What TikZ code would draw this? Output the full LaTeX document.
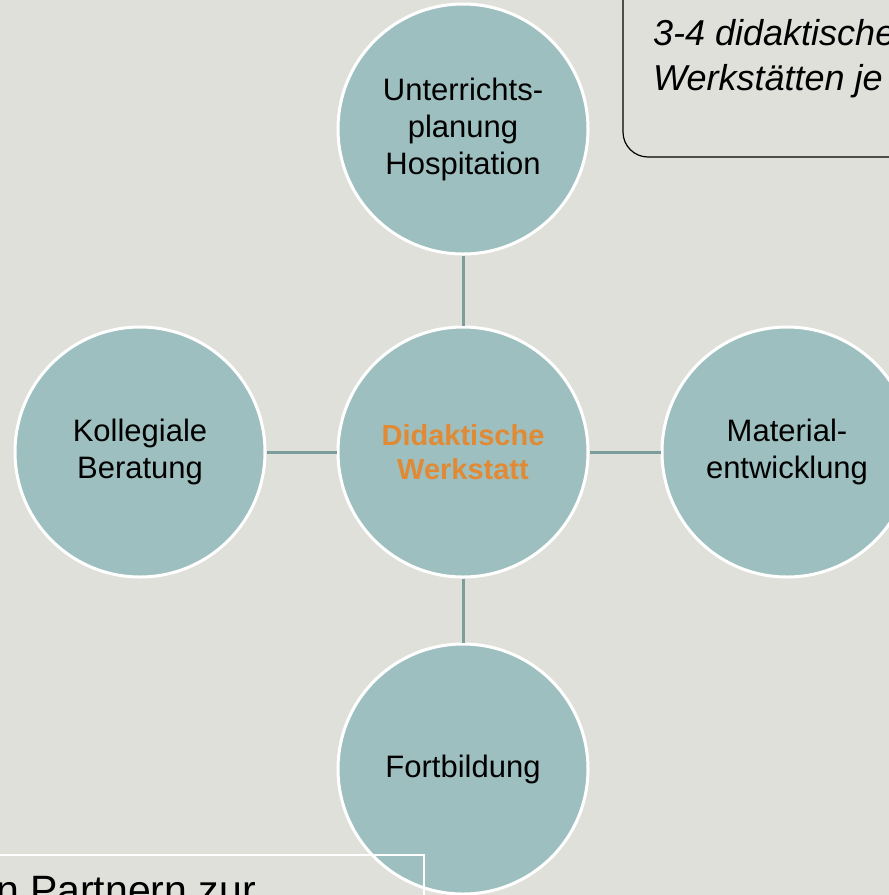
\documentclass[tikz,border=0pt]{standalone}
\usepackage{fontspec}
\setmainfont{Liberation Sans}
\usepackage{xcolor}
\definecolor{hintergrund}{HTML}{E0E0DB}
\definecolor{kreisfarbe}{HTML}{9EBFBF}
\definecolor{linienfarbe}{HTML}{7D9C9C}
\definecolor{orangetext}{HTML}{E08A35}

\begin{document}
\begin{tikzpicture}[x=1pt, y=-1pt,
    kreis/.style={circle, fill=kreisfarbe, draw=white, line width=3pt, minimum size=250pt, inner sep=0pt, align=center, font=\fontsize{31}{37}\selectfont},
    linie/.style={draw=linienfarbe, line width=3pt}]
        \useasboundingbox (0,0) rectangle (889,895);
        \clip (0,0) rectangle (889,895);
        \fill[hintergrund] (0,0) rectangle (889,895);

        \node[kreis, text=orangetext, font=\fontsize{29}{34}\selectfont\bfseries] (werkstatt) at (463,452) {Didaktische\\Werkstatt};
        \node[kreis] (planung) at (463,129) {Unterrichts-\\planung\\Hospitation};
        \node[kreis] (beratung) at (140,452) {Kollegiale\\Beratung};
        \node[kreis] (material) at (787,452) {Material-\\entwicklung};
        \node[kreis] (fortbildung) at (463,769) {Fortbildung};

        \draw[linie] (werkstatt) -- (planung);
        \draw[linie] (werkstatt) -- (beratung);
        \draw[linie] (werkstatt) -- (material);
        \draw[linie] (werkstatt) -- (fortbildung);

        % Hinweis oben rechts
        \draw[line width=1.2pt, rounded corners=25pt] (623,-40) rectangle (980,157);
        \node[anchor=north west, inner sep=0pt, align=left, font=\itshape\fontsize{36}{45}\selectfont] (hinweis) at (653,19) {3-4 didaktische\\Werkstätten je};

        % Kasten unten links
        \draw[white, line width=1.5pt] (-20,855) -| (424,930);
        \node[anchor=base east, inner sep=0pt, font=\fontsize{41}{49}\selectfont] (partner) at (256,904) {n Partnern zur};
    \end{tikzpicture}
\end{document}
